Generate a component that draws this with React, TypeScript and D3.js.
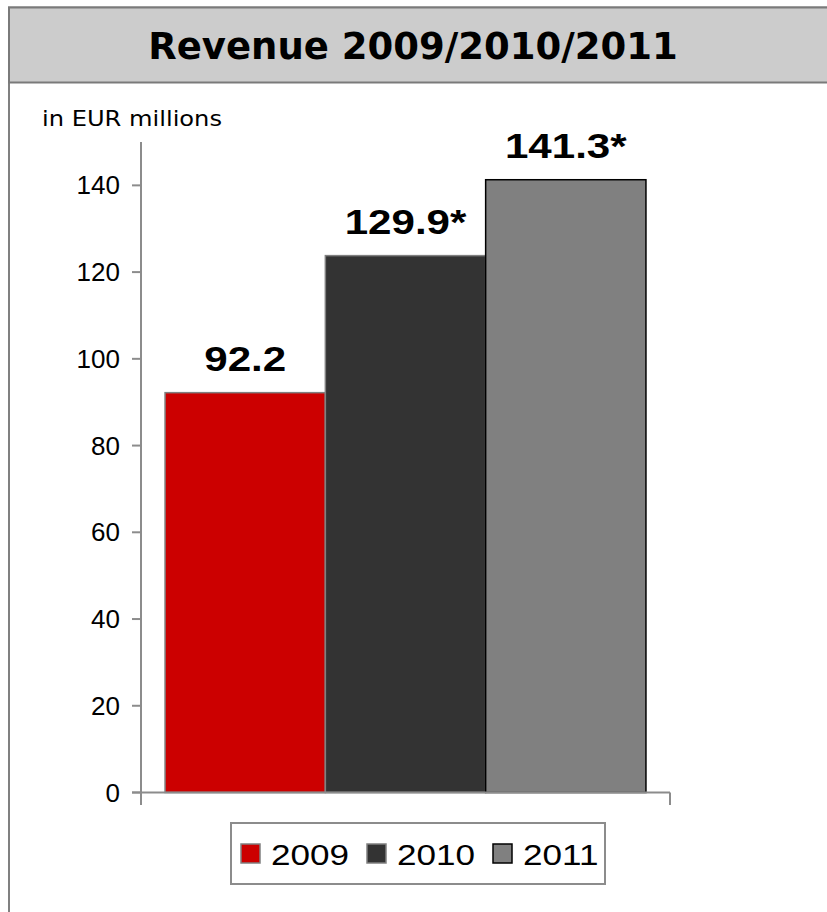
import React from 'react';
import * as d3 from 'd3';

const years = ['2009', '2010', '2011'];
const barValues = [92.2, 123.8, 141.3];
const valueLabels = ['92.2', '129.9*', '141.3*'];
const barColors = ['#cc0000', '#333333', '#808080'];
const barStrokes = ['#808080', '#808080', '#000000'];
const yTicks = [0, 20, 40, 60, 80, 100, 120, 140];
const titleText = 'Revenue 2009/2010/2011';
const unitText = 'in EUR millions';

const W = 827;
const H = 912;

export default function App() {
  const y = d3.scaleLinear().domain([0, 150]).range([792.5, 142]);
  const x = d3.scaleBand<string>().domain(years).range([141, 670]).paddingInner(0).paddingOuter(0.15);
  const axisX = 141;
  const arial = '"Liberation Sans", Arial, sans-serif';
  const verdana = '"DejaVu Sans", Verdana, sans-serif';
  const legendX0 = 241;
  const legendStep = 126;

  return (
    <svg width={W} height={H} style={{ position: 'absolute', left: 0, top: 0, background: '#fff' }}>
      {/* outer frame */}
      <rect x={9} y={7.5} width={W + 20} height={H + 20} fill="#ffffff" stroke="#808080" strokeWidth={2} />
      {/* title band */}
      <rect x={9} y={7.5} width={W + 20} height={75} fill="#cccccc" stroke="#7a7a7a" strokeWidth={2} />
      <text x={413} y={59} textAnchor="middle" fontFamily={verdana} fontWeight="bold" fontSize={37} fill="#000">
        {titleText}
      </text>
      <text x={42} y={126} fontFamily={verdana} fontSize={21} textLength={180} lengthAdjust="spacingAndGlyphs" fill="#000">
        {unitText}
      </text>

      {/* bars */}
      {years.map((yr, i) => (
        <rect
          key={yr}
          x={x(yr)!}
          y={y(barValues[i])}
          width={x.bandwidth()}
          height={y(0) - y(barValues[i])}
          fill={barColors[i]}
          stroke={barStrokes[i]}
          strokeWidth={1.5}
        />
      ))}

      {/* value labels */}
      {years.map((yr, i) => (
        <text
          key={'l' + yr}
          transform={`translate(${x(yr)! + x.bandwidth() / 2},${y(barValues[i]) - 22}) scale(1.17,1)`}
          textAnchor="middle"
          fontFamily={arial}
          fontWeight="bold"
          fontSize={36}
          fill="#000"
        >
          {valueLabels[i]}
        </text>
      ))}

      {/* y axis */}
      <line x1={axisX} x2={axisX} y1={142} y2={805} stroke="#8c8c8c" strokeWidth={2} />
      {yTicks.map((t) => (
        <g key={t}>
          <line x1={132} x2={axisX} y1={y(t)} y2={y(t)} stroke="#8c8c8c" strokeWidth={2} />
          <text x={120} y={y(t)} dy="0.35em" textAnchor="end" fontFamily={arial} fontSize={26} fill="#000">
            {t}
          </text>
        </g>
      ))}
      {/* x axis */}
      <line x1={132} x2={670} y1={y(0)} y2={y(0)} stroke="#8c8c8c" strokeWidth={2} />
      <line x1={670} x2={670} y1={y(0)} y2={805} stroke="#8c8c8c" strokeWidth={2} />

      {/* legend */}
      <rect x={231} y={823} width={374} height={61} fill="#fff" stroke="#8c8c8c" strokeWidth={2} />
      {years.map((yr, i) => (
        <g key={'lg' + yr} transform={`translate(${legendX0 + i * legendStep},0)`}>
          <rect x={0} y={844} width={19} height={19} fill={barColors[i]} stroke={barStrokes[i]} strokeWidth={1.5} />
          <text
            transform={`translate(30,865) scale(1.17,1)`}
            fontFamily={arial}
            fontSize={30}
            fill="#000"
          >
            {yr}
          </text>
        </g>
      ))}
    </svg>
  );
}
